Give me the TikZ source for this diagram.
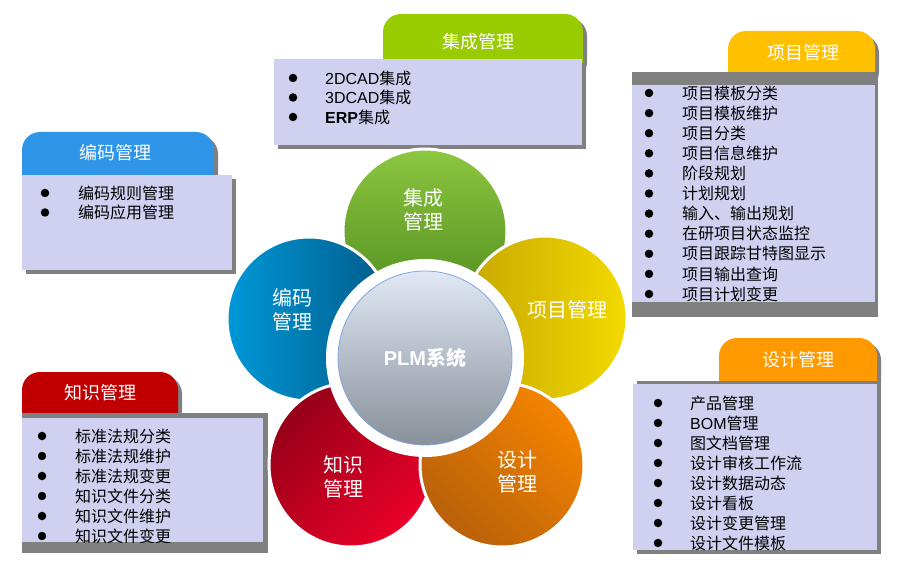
\documentclass[tikz,border=0pt]{standalone}
\usepackage{fontspec}
\setmainfont{Noto Sans CJK SC}
\newfontfamily\lat{Liberation Sans}
\definecolor{lav}{RGB}{208,208,240}
\definecolor{shd}{RGB}{128,128,128}
\definecolor{tgreen}{RGB}{153,204,0}
\definecolor{tyellow}{RGB}{255,192,0}
\definecolor{torange}{RGB}{255,153,0}
\definecolor{tblue}{RGB}{46,149,232}
\definecolor{tred}{RGB}{192,0,0}
\definecolor{gtop}{RGB}{141,198,63}
\definecolor{gbot}{RGB}{78,138,30}
\definecolor{yl}{RGB}{200,166,0}
\definecolor{yr}{RGB}{242,218,0}
\definecolor{od}{RGB}{184,96,10}
\definecolor{ob}{RGB}{244,132,0}
\definecolor{rd}{RGB}{150,0,24}
\definecolor{rb}{RGB}{234,0,42}
\definecolor{bb}{RGB}{0,152,216}
\definecolor{bd}{RGB}{0,90,136}
\definecolor{ctop}{RGB}{224,232,244}
\definecolor{cbot}{RGB}{136,144,154}
\definecolor{cline}{RGB}{130,165,225}
\tikzset{
  item/.style={anchor=west,inner sep=0pt,font=\fontsize{16}{18}\selectfont,text=black},
  bul/.style={fill=black,circle,inner sep=0pt,minimum size=8.5pt},
  tabtxt/.style={text=white,font=\fontsize{18}{20}\selectfont,inner sep=0pt},
  petal/.style={circle,inner sep=0pt,minimum size=164pt,draw=white,line width=3pt},
  petaltxt/.style={text=white,font=\fontsize{20}{24}\selectfont,align=center,inner sep=0pt},
  tabshape/.style={rounded corners=18pt},
}
\begin{document}
\begin{tikzpicture}[x=1pt,y=-1pt]
\useasboundingbox (0,0) rectangle (900,564);
\fill[white] (0,0) rectangle (900,564);

% ---------- 集成管理 ----------
\fill[shd,tabshape] (387,18) rectangle (587,80);
\fill[tgreen,tabshape] (383,14) rectangle (583,80);
\fill[shd] (278,63) rectangle (586,149);
\fill[lav] (274,59) rectangle (582,145);
\node[tabtxt] (t1) at (478,42) {集成管理};
\begin{scope}
\clip (274,59) rectangle (582,145);
\foreach \t [count=\i] in {{{\lat 2DCAD}集成},{{\lat 3DCAD}集成},{{\lat\bfseries ERP}集成}} {
  \node[bul] (b1\i) at (293,{78+19.5*(\i-1)}) {};
  \node[item] (i1\i) at (325,{78+19.5*(\i-1)}) {\t};
}
\end{scope}

% ---------- 项目管理 ----------
\fill[shd,tabshape] (732,35) rectangle (879,90);
\fill[tyellow,tabshape] (728,31) rectangle (875,90);
\fill[shd] (632,72) rectangle (878,317);
\fill[lav] (632,85) rectangle (875,302);
\node[tabtxt] (t2) at (803,53) {项目管理};
\begin{scope}
\clip (632,85) rectangle (875,302);
\foreach \t [count=\i] in {项目模板分类,项目模板维护,项目分类,项目信息维护,阶段规划,计划规划,输入、输出规划,在研项目状态监控,项目跟踪甘特图显示,项目输出查询,项目计划变更} {
  \node[bul] (b2\i) at (649,{93+20.1*(\i-1)}) {};
  \node[item] (i2\i) at (682,{93+20.1*(\i-1)}) {\t};
}
\end{scope}

% ---------- 编码管理 ----------
\fill[shd,tabshape] (26,136) rectangle (218,195);
\fill[tblue,tabshape] (22,132) rectangle (214,195);
\fill[shd] (26,179) rectangle (236,274);
\fill[lav] (22,175) rectangle (232,270);
\node[tabtxt] (t3) at (115,153) {编码管理};
\foreach \t [count=\i] in {编码规则管理,编码应用管理} {
  \node[bul] (b3\i) at (45,{193+19.5*(\i-1)}) {};
  \node[item] (i3\i) at (78,{193+19.5*(\i-1)}) {\t};
}

% ---------- 知识管理 ----------
\fill[shd,tabshape] (26,376) rectangle (182,430);
\fill[tred,tabshape] (22,372) rectangle (178,430);
\fill[shd] (22,413) rectangle (268,553);
\fill[lav] (22,418) rectangle (263,542);
\node[tabtxt] (t4) at (100,393) {知识管理};
\begin{scope}
\clip (22,418) rectangle (263,542);
\foreach \t [count=\i] in {标准法规分类,标准法规维护,标准法规变更,知识文件分类,知识文件维护,知识文件变更} {
  \node[bul] (b4\i) at (42,{436+20*(\i-1)}) {};
  \node[item] (i4\i) at (75,{436+20*(\i-1)}) {\t};
}
\end{scope}

% ---------- 设计管理 ----------
\fill[shd,tabshape] (723,342) rectangle (881,400);
\fill[torange,tabshape] (719,338) rectangle (877,400);
\fill[shd] (637,381) rectangle (881,554);
\fill[lav] (633,384) rectangle (877,550);
\node[tabtxt] (t5) at (798,360) {设计管理};
\begin{scope}
\clip (633,384) rectangle (877,550);
\foreach \t [count=\i] in {产品管理,{{\lat BOM}管理},图文档管理,设计审核工作流,设计数据动态,设计看板,设计变更管理,设计文件模板} {
  \node[bul] (b5\i) at (658,{403+20*(\i-1)}) {};
  \node[item] (i5\i) at (690,{403+20*(\i-1)}) {\t};
}
\end{scope}

% ---------- flower ----------
\node[petal,top color=gtop,bottom color=gbot] (pg) at (425,231) {};
\node[petal,left color=yl,right color=yr] (py) at (545,318) {};
\node[petal,left color=bb,right color=bd] (pb) at (309,319) {};
\node[petal,left color=rd,right color=rb,shading angle=45] (pr) at (351,465) {};
\node[petal,left color=od,right color=ob,shading angle=135] (po) at (502,465) {};
\node[circle,fill=white,inner sep=0pt,minimum size=198pt] (ring) at (425,358) {};
\node[circle,inner sep=0pt,minimum size=174pt,draw=cline,line width=0.8pt,
      top color=ctop,bottom color=cbot,text=white,
      font=\fontsize{20}{24}\selectfont\bfseries] (plm) at (425,358) {{\lat\bfseries PLM}系统};

\node[petaltxt] (lg) at (423,210) {集成\\管理};
\node[petaltxt] (ly) at (567,310) {项目管理};
\node[petaltxt] (lo) at (517,472) {设计\\管理};
\node[petaltxt] (lr) at (343,477) {知识\\管理};
\node[petaltxt] (lb) at (292,310) {编码\\管理};
\end{tikzpicture}
\end{document}
